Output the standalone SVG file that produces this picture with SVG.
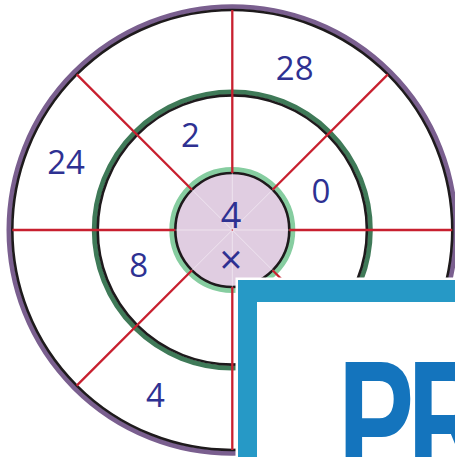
<svg xmlns="http://www.w3.org/2000/svg" width="455" height="457" viewBox="0 0 455 457">
<style>
.lbl{font-family:"Open Sans","Noto Sans",sans-serif;font-size:33px;fill:#2e3192;text-anchor:middle}
.red{stroke:#c8202f;stroke-width:2.3;fill:none}
.faint{stroke:#ffffff;stroke-opacity:0.45;stroke-width:1;fill:none}
</style>
<rect width="455" height="457" fill="#ffffff"/>
<g id="rings">
  <circle cx="232.3" cy="230" r="223.3" fill="none" stroke="#7a5f8f" stroke-width="5"/>
  <circle cx="232.3" cy="230" r="220" fill="none" stroke="#1e1a1c" stroke-width="2.6"/>
  <circle cx="232.3" cy="230" r="138" fill="none" stroke="#3f7a58" stroke-width="5"/>
  <circle cx="232.3" cy="230" r="134.6" fill="none" stroke="#1e1a1c" stroke-width="2.6"/>
  <circle cx="232.3" cy="230" r="60" fill="none" stroke="#86cda0" stroke-width="6"/>
  <circle cx="232.3" cy="230" r="57" fill="#e0cde1" stroke="#1e1a1c" stroke-width="2.6"/>
</g>
<g id="connectors">
  <path class="red" d="M232.3 173 V10 M232.3 287 V450 M175.3 230 H12.3 M289.3 230 H452.3 M192 189.7 L76.7 74.4 M272.6 270.3 L387.9 385.6 M272.6 189.7 L387.9 74.4 M192 270.3 L76.7 385.6"/>
  <path class="faint" d="M232.3 173 V287 M175.3 230 H289.3 M192 189.7 L272.6 270.3 M272.6 189.7 L192 270.3"/>
  <circle cx="232.3" cy="230" r="0.8" fill="#c8202f"/>
</g>
<g id="labels">
  <text class="lbl" x="231" y="227.5" style="font-size:36px">4</text>
  <text class="lbl" x="231" y="273.5" style="font-size:40px">×</text>
  <text class="lbl" x="294.7" y="80">28</text>
  <text class="lbl" x="66" y="174">24</text>
  <text class="lbl" x="190.5" y="147.3">2</text>
  <text class="lbl" x="321" y="203.3">0</text>
  <text class="lbl" x="138.7" y="277">8</text>
  <text class="lbl" x="155.5" y="407">4</text>
</g>
<g id="panel">
  <rect x="235.5" y="277.5" width="230" height="190" fill="#ffffff"/>
  <path d="M238 280 H460 V460 H238 Z M257 302 V460 H460 V302 Z" fill="#2699c6" fill-rule="evenodd"/>
  <text x="338" y="477.7" transform="translate(338 0) scale(0.68 1) translate(-338 0)" font-family="Liberation Sans, Arial, sans-serif" font-weight="bold" font-size="168" letter-spacing="-10" fill="#1474bd">PR</text>
</g>
</svg>
